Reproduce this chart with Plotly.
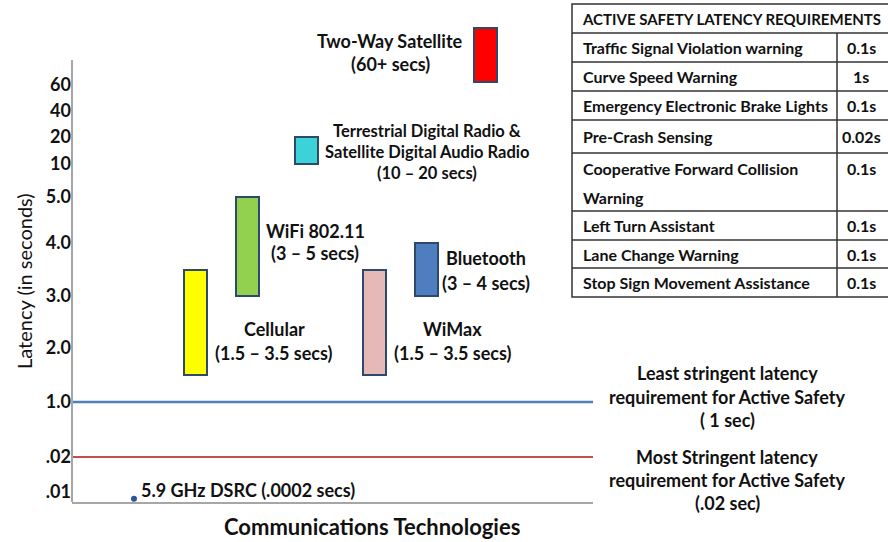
import numpy as np
import plotly.graph_objects as go

W, H = 888, 542
FONT = "Lato"

# y axis: latency tick labels and where they sit (the axis is not linear)
tick_vals = [0.01, 0.02, 1.0, 2.0, 3.0, 4.0, 5.0, 10, 20, 40, 60]
tick_text = [".01", ".02", "1.0", "2.0", "3.0", "4.0", "5.0", "10", "20", "40", "60"]
tick_pos = [492, 457, 402, 348, 296, 243, 197, 164, 137, 111, 85]
# extra anchors below .01 and above 60 so the extreme marks can be placed
scale_vals = [0.0] + tick_vals + [100]
scale_pos = [502] + tick_pos + [28]

# communication technologies (latency range in seconds)
techs = ["Cellular", "WiFi 802.11", "Digital Radio", "WiMax", "Bluetooth", "Two-Way Satellite"]
lat_low = [1.5, 3, 10, 1.5, 3, 62]
lat_high = [3.5, 5, 20, 3.5, 4, 100]
bar_colors = ["#FFFF00", "#92D050", "#3CD3D8", "#E6B9B8", "#4F7EC0", "#FF0000"]
bar_x = [195, 247, 306, 374, 426, 485]

dsrc_latency = 0.0002
least_stringent = 1.0
most_stringent = 0.02

# active safety requirement table
table_title = "ACTIVE SAFETY LATENCY REQUIREMENTS"
req_names = [
    ["Traffic Signal Violation warning"],
    ["Curve Speed Warning"],
    ["Emergency Electronic Brake Lights"],
    ["Pre-Crash Sensing"],
    ["Cooperative Forward Collision", "Warning"],
    ["Left Turn Assistant"],
    ["Lane Change Warning"],
    ["Stop Sign Movement Assistance"],
]
req_values = ["0.1s", "1s", "0.1s", "0.02s", "0.1s", "0.1s", "0.1s", "0.1s"]
row_edges = [4, 33, 62, 91, 120, 153, 211, 240, 268, 297]


def to_axis(v):
    return np.interp(v, scale_vals, scale_pos)


X0, X1 = 72, 593  # plot area in pixels
Y_BOTTOM = 502

fig = go.Figure()

low_pos = to_axis(lat_low)
high_pos = to_axis(lat_high)
fig.add_trace(go.Bar(
    x=bar_x, y=high_pos - low_pos, base=low_pos, width=23,
    marker=dict(color=bar_colors, line=dict(color="#2E4A6B", width=2)),
    hoverinfo="text", hovertext=techs,
))

# requirement lines
fig.add_trace(go.Scatter(x=[X0, X1], y=[to_axis(least_stringent)] * 2, mode="lines",
                         line=dict(color="#4F81BD", width=2.5), hoverinfo="skip"))
fig.add_trace(go.Scatter(x=[X0, X1], y=[to_axis(most_stringent)] * 2, mode="lines",
                         line=dict(color="#C0504D", width=2), hoverinfo="skip"))

# DSRC point
fig.add_trace(go.Scatter(x=[134], y=[to_axis(dsrc_latency) - 3], mode="markers",
                         marker=dict(color="#2F5597", size=6), cliponaxis=False,
                         hoverinfo="skip"))

annotations = []
shapes = []


def note(x, y, text, size=18, bold=True, xanchor="center", angle=0):
    annotations.append(dict(
        xref="paper", yref="paper", x=x / W, y=1 - y / H, text=text,
        showarrow=False, xanchor=xanchor, yanchor="middle", textangle=angle,
        font=dict(family=FONT, size=size, color="#111111",
                  weight="bold" if bold else "normal"),
    ))


def note_lines(x, y, lines, step, size=18, xanchor="center"):
    for i, t in enumerate(lines):
        note(x, y + i * step, t, size=size, xanchor=xanchor)


# bar labels
note_lines(390, 41, ["Two-Way Satellite", "(60+ secs)"], 23, size=18)
note_lines(427, 131, ["Terrestrial Digital Radio &", "Satellite Digital Audio Radio",
                      "(10 \u2013 20 secs)"], 21, size=16.5)
note_lines(315, 231, ["WiFi 802.11", "(3 \u2013 5 secs)"], 22)
note_lines(486, 258, ["Bluetooth", "(3 \u2013 4 secs)"], 25)
note_lines(274, 329, ["Cellular", "(1.5 \u2013 3.5 secs)"], 24)
note_lines(453, 329, ["WiMax", "(1.5 \u2013 3.5 secs)"], 24)
note(139, 490, "5.9 GHz DSRC (.0002 secs)", size=18, xanchor="left")

# requirement line labels
note_lines(727, 373, ["Least stringent latency", "requirement for Active Safety", "( 1 sec)"], 23.5)
note_lines(727, 457, ["Most Stringent latency", "requirement for Active Safety", "(.02 sec)"], 23)

# axis titles
note(24, 281, "Latency (in seconds)", size=20, bold=False, angle=-90)
note(372, 526, "Communications Technologies", size=22)

# y axis line
shapes.append(dict(type="line", xref="paper", yref="paper",
                   x0=X0 / W, x1=X0 / W, y0=1 - 60 / H, y1=1 - Y_BOTTOM / H,
                   line=dict(color="#A6A6A6", width=2)))

# table
TL, TR, TC = 572, 892, 837
tline = dict(color="#333333", width=1.5)
shapes.append(dict(type="rect", xref="paper", yref="paper",
                   x0=TL / W, x1=TR / W, y0=1 - row_edges[0] / H, y1=1 - row_edges[-1] / H,
                   line=tline))
for e in row_edges[1:-1]:
    shapes.append(dict(type="line", xref="paper", yref="paper",
                       x0=TL / W, x1=TR / W, y0=1 - e / H, y1=1 - e / H, line=tline))
shapes.append(dict(type="line", xref="paper", yref="paper",
                   x0=TC / W, x1=TC / W, y0=1 - row_edges[1] / H, y1=1 - row_edges[-1] / H,
                   line=tline))

note(731, (row_edges[0] + row_edges[1]) / 2, table_title, size=15)
for i, (name, val) in enumerate(zip(req_names, req_values)):
    top, bot = row_edges[i + 1], row_edges[i + 2]
    if len(name) == 1:
        yc = (top + bot) / 2
    else:
        yc = top + 15
    note_lines(581, yc, name, 29, size=16, xanchor="left")
    note(861, yc, val, size=16)

fig.update_layout(
    width=W, height=H,
    margin=dict(l=0, r=0, t=0, b=0),
    paper_bgcolor="white", plot_bgcolor="white",
    showlegend=False,
    bargap=0,
    xaxis=dict(domain=[X0 / W, X1 / W], range=[X0, X1], showline=True,
               linecolor="#A6A6A6", linewidth=2, showticklabels=False,
               showgrid=False, zeroline=False, ticks=""),
    yaxis=dict(domain=[1 - Y_BOTTOM / H, 1], range=[Y_BOTTOM, 0],
               tickvals=tick_pos, ticktext=tick_text, ticks="",
               tickfont=dict(family=FONT, size=18, color="#111111", weight="bold"),
               showgrid=False, zeroline=False, showline=False),
    annotations=annotations,
    shapes=shapes,
)

fig.write_html("out.html", config={"displayModeBar": False},
               post_script="document.body.style.margin='0';")
